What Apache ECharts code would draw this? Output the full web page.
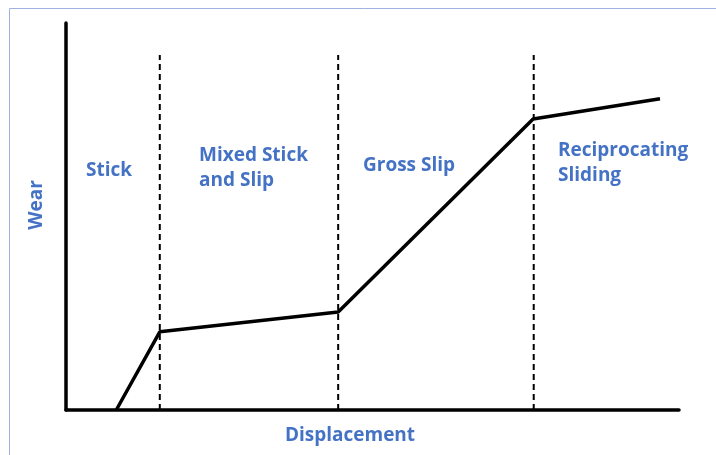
<!DOCTYPE html>
<html>
<head>
<meta charset="utf-8">
<script src="https://cdn.jsdelivr.net/npm/echarts@6/dist/echarts.min.js"></script>
<style>html,body{margin:0;padding:0;background:#fff}#c{width:716px;height:455px}</style>
</head>
<body>
<div id="c"></div>
<script>
// Wear curve (displacement, wear) in relative units 0-100
var wearX = [8.2, 15.3, 44.4, 76.2, 96.9];
var wearY = [0, 20.2, 25.3, 75.2, 80.4];
// Regime boundaries (displacement) and dashed line height
var boundaries = [15.3, 44.4, 76.3];
var boundaryTop = 91.7;
// Regime labels
var regimeLabels = ['Stick', 'Mixed Stick\nand Slip', 'Gross Slip', 'Reciprocating\nSliding'];
var xName = 'Displacement';
var yName = 'Wear';

var blue = '#4472C4';
var font = '"Open Sans", Lato, sans-serif';
var textFont = 'bold 19px ' + font;

var series = [];
boundaries.forEach(function (b) {
  series.push({
    type: 'line', data: [[b, 0], [b, boundaryTop]], symbol: 'none',
    lineStyle: { color: '#000', width: 2, type: [6, 4] }, z: 1, silent: true
  });
});
series.push({
  type: 'line',
  data: wearX.map(function (x, i) { return [x, wearY[i]]; }),
  symbol: 'none',
  lineStyle: { color: '#000', width: 3.5 },
  z: 3
});

var labelPos = [[86, 158], [199, 143], [363, 153], [558, 138]];
var graphics = [{
  type: 'rect', shape: { x: 9.5, y: 8.5, width: 720, height: 460 },
  style: { fill: 'none', stroke: '#9DB2E0', lineWidth: 1 }, silent: true, z: -1
}];
regimeLabels.forEach(function (t, i) {
  graphics.push({
    type: 'text', left: labelPos[i][0], top: labelPos[i][1],
    style: { text: t, fill: blue, font: textFont, lineHeight: 25, textAlign: 'left' }
  });
});
graphics.push({
  type: 'text', x: 350, y: 436,
  style: { text: xName, fill: blue, font: textFont, textAlign: 'center', textVerticalAlign: 'middle' }
});
graphics.push({
  type: 'text', x: 37, y: 205, rotation: Math.PI / 2,
  style: { text: yName, fill: blue, font: textFont, textAlign: 'center', textVerticalAlign: 'middle' }
});

var chart = echarts.init(document.getElementById('c'));
chart.setOption({
  animation: false,
  backgroundColor: '#fff',
  grid: { left: 66, top: 23, right: 37, bottom: 45, containLabel: false },
  xAxis: {
    type: 'value', min: 0, max: 100,
    axisLine: { show: true, lineStyle: { color: '#000', width: 3.5 } },
    axisTick: { show: false }, axisLabel: { show: false }, splitLine: { show: false }
  },
  yAxis: {
    type: 'value', min: 0, max: 100,
    axisLine: { show: true, onZero: false, lineStyle: { color: '#000', width: 3.5 } },
    axisTick: { show: false }, axisLabel: { show: false }, splitLine: { show: false }
  },
  graphic: graphics,
  series: series
});
</script>
</body>
</html>
